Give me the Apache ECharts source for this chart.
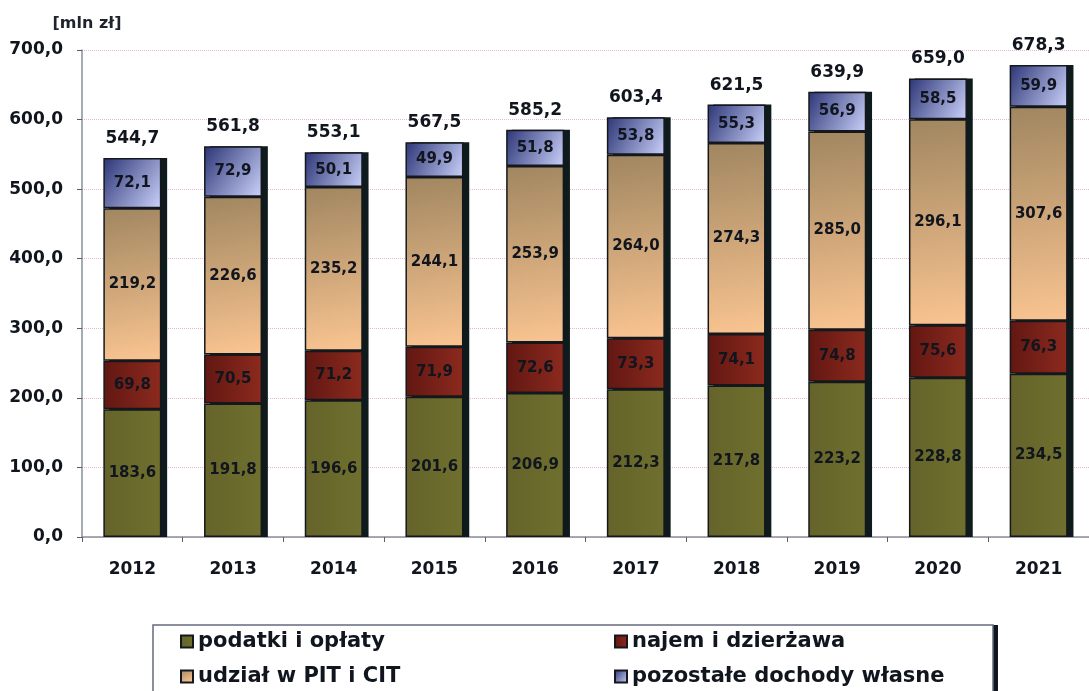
<!DOCTYPE html>
<html>
<head>
<meta charset="utf-8">
<script src="https://cdn.jsdelivr.net/npm/echarts@6/dist/echarts.min.js"></script>
<style>
  html, body { margin: 0; padding: 0; background: #fff; }
  #chart { width: 1089px; height: 691px; }
</style>
</head>
<body>
<div id="chart"></div>
<script>
// lata
const years = ['2012', '2013', '2014', '2015', '2016', '2017', '2018', '2019', '2020', '2021'];
// dochody własne [mln zł]
const podatki = [183.6, 191.8, 196.6, 201.6, 206.9, 212.3, 217.8, 223.2, 228.8, 234.5];
const najem = [69.8, 70.5, 71.2, 71.9, 72.6, 73.3, 74.1, 74.8, 75.6, 76.3];
const udzial = [219.2, 226.6, 235.2, 244.1, 253.9, 264.0, 274.3, 285.0, 296.1, 307.6];
const pozostale = [72.1, 72.9, 50.1, 49.9, 51.8, 53.8, 55.3, 56.9, 58.5, 59.9];
const totals = [544.7, 561.8, 553.1, 567.5, 585.2, 603.4, 621.5, 639.9, 659.0, 678.3];
const yTicks = [0, 100, 200, 300, 400, 500, 600, 700];

const FONT = '"DejaVu Sans", sans-serif';
const TXT = '#10151e';
const fmt = v => v.toFixed(1).replace('.', ',');

const myChart = echarts.init(document.getElementById('chart'));
const G = echarts.graphic.LinearGradient;

const insideLabel = {
    show: true,
    position: 'inside',
    fontFamily: FONT,
    fontWeight: 'bold',
    fontSize: 15,
    color: TXT,
    formatter: p => fmt(p.value)
};

const names = ['podatki i opłaty', 'najem i dzierżawa', 'udział w PIT i CIT', 'pozostałe dochody własne'];
const colors = [
    new G(0, 0, 1, 0, [{offset: 0, color: '#65632a'}, {offset: 1, color: '#6f702e'}]),
    new G(0, 0, 1, 0, [{offset: 0, color: '#621712'}, {offset: 1, color: '#8c2a1e'}]),
    new G(0, 0, 0.5, 1, [{offset: 0, color: '#a08660'}, {offset: 1, color: '#f8c390'}]),
    new G(0, 0.1, 1, 0.9, [{offset: 0, color: '#313a7a'}, {offset: 1, color: '#c6cdf6'}])
];
const values = [podatki, najem, udzial, pozostale];

// pusty słupek po lewej - żeby właściwy słupek był na środku kategorii
const series = [{
    name: 'pusty',
    type: 'bar',
    stack: 'pusty',
    barWidth: 58,
    barGap: '-90%',
    data: [],
    silent: true
}];
values.forEach((arr, i) => {
    series.push({
        name: names[i],
        type: 'bar',
        stack: 'dochody',
        barWidth: 58,
        barGap: '-90%',
        data: arr,
        itemStyle: { color: colors[i], borderColor: '#14181c', borderWidth: 1.5 },
        label: insideLabel,
        z: 3
    });
});
// cień słupków (przesunięty w prawo)
series.push({
    name: 'cien',
    type: 'bar',
    stack: 'cien',
    barWidth: 58,
    barGap: '-90%',
    data: totals,
    silent: true,
    itemStyle: { color: '#0f1a1c' },
    z: 2
});
// sumy nad słupkami
series.push({
    name: 'suma',
    type: 'scatter',
    data: totals,
    symbolSize: 0,
    silent: true,
    itemStyle: { opacity: 1 },
    label: {
        show: true,
        position: 'top',
        distance: 11,
        fontFamily: FONT,
        fontWeight: 'bold',
        fontSize: 17,
        color: TXT,
        opacity: 1,
        formatter: p => fmt(p.value)
    },
    z: 5
});

const legendText = { fontFamily: FONT, fontWeight: 'bold', fontSize: 21, color: TXT };

const option = {
    backgroundColor: '#fff',
    animation: false,
    grid: { left: 82, width: 1022, top: 50, bottom: 154 },
    xAxis: {
        type: 'category',
        data: years,
        axisLine: { lineStyle: { color: '#8a8f9a', width: 1.5 } },
        axisTick: { show: true, length: 5, lineStyle: { color: '#5a5f6a' } },
        axisLabel: { margin: 24, fontFamily: FONT, fontWeight: 'bold', fontSize: 17, color: TXT }
    },
    yAxis: {
        type: 'value',
        min: yTicks[0],
        max: yTicks[yTicks.length - 1],
        interval: 100,
        name: '[mln zł]',
        nameLocation: 'end',
        nameGap: 18,
        nameTextStyle: { fontFamily: FONT, fontSize: 16, fontWeight: 'bold', color: '#1e232e', align: 'center', padding: [0, 0, 0, 10] },
        axisLine: { show: true, lineStyle: { color: '#8a8f9a', width: 1.5 } },
        axisTick: { show: true, length: 5, lineStyle: { color: '#5a5f6a' } },
        axisLabel: { margin: 19, fontFamily: FONT, fontWeight: 'bold', fontSize: 17, color: TXT, formatter: v => fmt(v) },
        splitLine: { show: true, lineStyle: { color: '#ebb6d2', type: 'dotted', width: 1 } }
    },
    graphic: [{
        type: 'rect',
        shape: { x: 158, y: 625, width: 840, height: 80 },
        style: { fill: '#10161c' },
        z: -11,
        silent: true
    }, {
        type: 'rect',
        shape: { x: 153, y: 625, width: 840, height: 80 },
        style: { fill: '#fff', stroke: '#666b7e', lineWidth: 1.5 },
        z: -10,
        silent: true
    }],
    legend: [{
        data: [names[0], names[2]],
        orient: 'vertical',
        left: 180,
        top: 631,
        itemWidth: 12,
        itemHeight: 12,
        itemGap: 14,
        icon: 'rect',
        padding: 0,
        textStyle: legendText
    }, {
        data: [names[1], names[3]],
        orient: 'vertical',
        left: 614,
        top: 631,
        itemWidth: 12,
        itemHeight: 12,
        itemGap: 14,
        icon: 'rect',
        padding: 0,
        textStyle: legendText
    }],
    series: series
};
myChart.setOption(option);
</script>
</body>
</html>
